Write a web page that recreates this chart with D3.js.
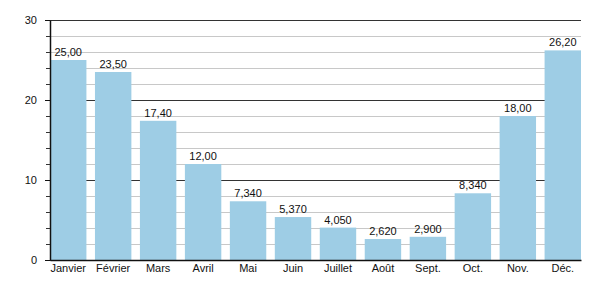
<!DOCTYPE html>
<html>
<meta charset="utf-8">
<title>Mois</title>
<style>
	body { margin: 0; background-color: #ffffff; }
	text { font-family: "Liberation Sans", Arial, sans-serif; fill: #111; }
</style>
<body>
<div id="chart"></div>
<script src="https://d3js.org/d3.v7.min.js"></script>
<script>

	// Data
	var months = ["Janvier", "Février", "Mars", "Avril", "Mai", "Juin", "Juillet", "Août", "Sept.", "Oct.", "Nov.", "Déc."];
	var values = [25.00, 23.50, 17.40, 12.00, 7.340, 5.370, 4.050, 2.620, 2.900, 8.340, 18.00, 26.20];
	var labels = ["25,00", "23,50", "17,40", "12,00", "7,340", "5,370", "4,050", "2,620", "2,900", "8,340", "18,00", "26,20"];
	var majorTicks = [0, 10, 20, 30];
	var minorTicks = [2, 4, 6, 8, 12, 14, 16, 18, 22, 24, 26, 28];

	var margin = { top: 20, right: 19, bottom: 40, left: 50 },
		width = 600 - margin.left - margin.right,
		height = 300 - margin.top - margin.bottom;

	var svg = d3.select("#chart").append("svg")
		.attr("width", 600)
		.attr("height", 300)
		.append("g")
		.attr("transform", "translate(" + margin.left + "," + margin.top + ")");

	var x = d3.scaleBand().domain(months).range([0, width]).paddingInner(0.19).paddingOuter(0.0);
	var y = d3.scaleLinear().domain([0, 30]).range([height, 0]);

	// minor grid
	svg.selectAll(".minor").data(minorTicks).enter().append("line")
		.attr("x1", 0).attr("x2", width)
		.attr("y1", function (d) { return y(d) + 0.5; })
		.attr("y2", function (d) { return y(d) + 0.5; })
		.attr("stroke", "#c8c8c8").attr("stroke-width", 1);

	// major grid
	svg.selectAll(".major").data(majorTicks).enter().append("line")
		.attr("x1", 0).attr("x2", width)
		.attr("y1", function (d) { return y(d) + 0.5; })
		.attr("y2", function (d) { return y(d) + 0.5; })
		.attr("stroke", "#333").attr("stroke-width", 1);

	// bars
	svg.selectAll(".bar").data(values).enter().append("rect")
		.attr("x", function (d, i) { return x(months[i]); })
		.attr("y", function (d) { return y(d); })
		.attr("width", x.bandwidth())
		.attr("height", function (d) { return height - y(d); })
		.attr("fill", "#9ecde5");

	// value labels
	svg.selectAll(".val").data(values).enter().append("text")
		.attr("x", function (d, i) { return x(months[i]) + x.bandwidth() / 2; })
		.attr("y", function (d) { return y(d) - 4; })
		.attr("text-anchor", "middle")
		.style("font-size", "11px")
		.text(function (d, i) { return labels[i]; });

	// y axis
	var yAxis = svg.append("g")
		.call(d3.axisLeft(y).tickValues(majorTicks).tickSize(0).tickPadding(13));
	yAxis.select(".domain").attr("stroke", "#111").attr("stroke-width", 1.5);
	yAxis.selectAll("text").style("font-size", "11px").attr("fill", "#111");

	var yMinor = svg.append("g")
		.call(d3.axisLeft(y).tickValues(minorTicks).tickSize(4).tickFormat(""));
	yMinor.select(".domain").remove();
	yMinor.selectAll("line").attr("stroke", "#333");

	var yMajorTicks = svg.append("g")
		.call(d3.axisLeft(y).tickValues(majorTicks).tickSize(5).tickFormat(""));
	yMajorTicks.select(".domain").remove();
	yMajorTicks.selectAll("line").attr("stroke", "#111");

	// x axis
	var xAxis = svg.append("g")
		.attr("transform", "translate(0," + height + ")")
		.call(d3.axisBottom(x).tickSize(0).tickPadding(4));
	xAxis.select(".domain").attr("stroke", "#111").attr("stroke-width", 1.5);
	xAxis.selectAll("text").style("font-size", "11px").attr("fill", "#111");

</script>
</body>
</html>
